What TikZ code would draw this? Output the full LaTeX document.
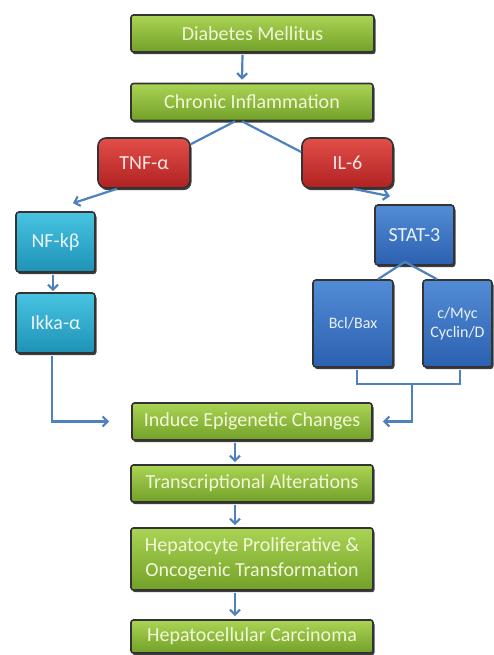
\documentclass[tikz,border=0pt]{standalone}
\usepackage{fontspec}
\setmainfont{Carlito}
\usetikzlibrary{arrows.meta,shadows,calc}

\definecolor{linkblue}{HTML}{4F81BD}
\definecolor{txtcream}{HTML}{F2F7D8}
\definecolor{txtpink}{HTML}{FBE6E4}
\definecolor{txtpale}{HTML}{EAF2FA}

\tikzset{
  box/.style={draw=black!80, line width=1.6pt, inner sep=0pt, align=center,
    font=\fontsize{20}{22}\selectfont, text=txtcream,
    drop shadow={shadow xshift=1.5pt, shadow yshift=-2.2pt, opacity=0.75, fill=black}},
  greenbox/.style={box, rounded corners=2.5pt,
    top color={rgb,255:red,170;green,212;blue,84}, bottom color={rgb,255:red,114;green,160;blue,40}},
  redbox/.style={box, rounded corners=8pt, text=txtpink,
    top color={rgb,255:red,226;green,78;blue,72}, bottom color={rgb,255:red,176;green,34;blue,34}},
  cyanbox/.style={box, rounded corners=3pt, text=txtpale,
    top color={rgb,255:red,72;green,196;blue,226}, bottom color={rgb,255:red,30;green,146;blue,182}},
  bluebox/.style={box, rounded corners=3pt, text=txtpale,
    top color={rgb,255:red,82;green,140;blue,214}, bottom color={rgb,255:red,44;green,96;blue,176}},
  smalltext/.style={font=\fontsize{16}{19}\selectfont},
  link/.style={draw=linkblue, line width=2.2pt},
  arr/.style={link, -{Straight Barb[length=5pt,width=10pt]}},
}

\begin{document}
\begin{tikzpicture}[x=1pt,y=-1pt]
\useasboundingbox[fill=white] (0,0) rectangle (494,655);

% main chain
\node[greenbox, minimum width=243pt, minimum height=37pt] (dm)  at (252.5,33.5) {Diabetes Mellitus};
\node[greenbox, minimum width=242pt, minimum height=37pt] (ci)  at (252,102)   {Chronic Inflammation};

% cytokines
\node[redbox, minimum width=92pt, minimum height=50pt] (tnf) at (144,163)   {TNF-α};
\node[redbox, minimum width=91pt, minimum height=50pt] (il6) at (347.5,163) {IL-6};

% NF-kB branch
\node[cyanbox, minimum width=79pt, minimum height=60pt] (nfk) at (55.5,242) {NF-kβ};
\node[cyanbox, minimum width=79pt, minimum height=60pt] (ikk) at (55.5,323) {Ikka-α};

% STAT-3 branch
\node[bluebox, minimum width=79pt, minimum height=60pt] (stat) at (414.5,235) {STAT-3};
\node[bluebox, smalltext, minimum width=80pt, minimum height=87pt] (bcl) at (353,323.5) {Bcl/Bax};
\node[bluebox, smalltext, minimum width=69pt, minimum height=87pt] (myc) at (457.5,323.5) {c/Myc\\Cyclin/D};

% lower chain
\node[greenbox, minimum width=240pt, minimum height=37pt] (iec) at (252,421.5) {Induce Epigenetic Changes};
\node[greenbox, minimum width=242pt, minimum height=37pt] (tra) at (252,483.5) {Transcriptional Alterations};
\node[greenbox, minimum width=242pt, minimum height=62pt, font=\fontsize{20}{25}\selectfont] (hep) at (252,559) {Hepatocyte Proliferative \&\\Oncogenic Transformation};
\node[greenbox, minimum width=242pt, minimum height=33pt] (hcc) at (252,636.5) {Hepatocellular Carcinoma};

% connectors
\draw[arr] ($(dm.south)+(-10,2)$) -- ($(ci.north)+(-10,-3)$);
\draw[link] ($(ci.south)+(-17,0)$) -- ($(tnf.north east)+(0,7)$);
\draw[link] ($(ci.south)+(-10,0)$) -- ($(il6.west)+(0,-11)$);
\draw[arr] ($(tnf.south)+(-27,0)$) -- ($(nfk.north)+(17.5,-8)$);
\draw[arr] ($(il6.south)+(5.5,0)$) -- ($(stat.north)+(-24.5,-8)$);
\draw[arr] ($(nfk.south)+(-2.5,2)$) -- ($(ikk.north)+(-2.5,-1)$);
\draw[link] ($(stat.south)+(-9.5,-4)$) -- ($(bcl.north)+(25,0)$);
\draw[link] ($(stat.south)+(-9.5,-4)$) -- ($(myc.north)+(-20.5,0)$);

\coordinate (brl) at ($(bcl.south)+(4,16)$);
\coordinate (brr) at ($(myc.south)+(2.5,16)$);
\draw[link] ($(bcl.south)+(4,2)$) -- (brl) -- (brr) -- ($(myc.south)+(2.5,2)$);
\coordinate (brm) at (412,383);
\draw[arr] (brm) |- ($(iec.east)+(10,0)$);

\draw[arr] ($(ikk.south)+(-3.5,2)$) |- ($(iec.west)+(-22,0)$);

\draw[arr] ($(iec.south)+(-17,2)$) -- ($(tra.north)+(-17,-2)$);
\draw[arr] ($(tra.south)+(-17,2)$) -- ($(hep.north)+(-17,-2)$);
\draw[arr] ($(hep.south)+(-17,2)$) -- ($(hcc.north)+(-17,-3)$);
\end{tikzpicture}
\end{document}
